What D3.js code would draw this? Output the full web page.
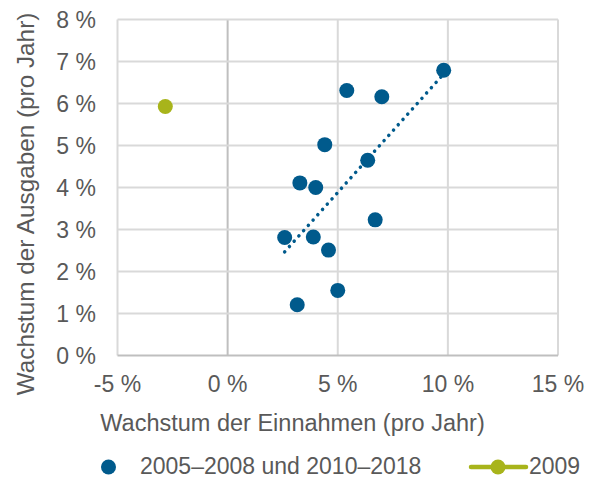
<!DOCTYPE html>
<html>
<head>
<meta charset="utf-8">
<script src="https://cdn.jsdelivr.net/npm/d3@7"></script>
<style>
  body { margin: 0; background: #fff; }
  svg text { font-family: "Liberation Sans", Arial, sans-serif; fill: #595959; }
</style>
</head>
<body>
<svg id="chart" width="591" height="477"></svg>
<script>
// growth of revenue (x) vs growth of spending (y), % per year
const mainX = [9.81, 5.41, 7.0, 4.41, 6.36, 3.28, 4.0, 6.70, 2.59, 3.89, 4.58, 5.0, 3.16];
const mainY = [6.79, 6.31, 6.16, 5.02, 4.65, 4.11, 4.0, 3.23, 2.81, 2.82, 2.51, 1.55, 1.21];
const crisisX = [-2.83];
const crisisY = [5.93];

const xTicks = [-5, 0, 5, 10, 15];
const yTicks = [0, 1, 2, 3, 4, 5, 6, 7, 8];
const seriesNames = ['2005–2008 und 2010–2018', '2009'];

const blue = '#005a8c';
const green = '#a8b41b';

const svg = d3.select('#chart');

const x = d3.scaleLinear().domain([-5, 15]).range([117.5, 558]);
const y = d3.scaleLinear().domain([0, 8]).range([355.5, 19.5]);

// grid
const grid = svg.append('g');
grid.selectAll('line.v')
  .data(xTicks)
  .join('line')
  .attr('x1', (d) => x(d)).attr('x2', (d) => x(d))
  .attr('y1', y(0)).attr('y2', y(8))
  .attr('stroke', (d) => (d === 0 ? '#bfbfbf' : '#d9d9d9'))
  .attr('stroke-width', 2);
grid.selectAll('line.h')
  .data(yTicks)
  .join('line')
  .attr('x1', x(-5)).attr('x2', x(15))
  .attr('y1', (d) => y(d)).attr('y2', (d) => y(d))
  .attr('stroke', (d) => (d === 0 ? '#bfbfbf' : '#d9d9d9'))
  .attr('stroke-width', 2);

// tick labels
svg.append('g')
  .selectAll('text')
  .data(xTicks)
  .join('text')
  .attr('x', (d) => x(d))
  .attr('y', 392)
  .attr('text-anchor', 'middle')
  .attr('font-size', 23)
  .text((d) => `${d} %`);

svg.append('g')
  .selectAll('text')
  .data(yTicks)
  .join('text')
  .attr('x', 96)
  .attr('y', (d) => y(d))
  .attr('dy', '0.36em')
  .attr('text-anchor', 'end')
  .attr('font-size', 23)
  .text((d) => `${d} %`);

// axis titles
svg.append('text')
  .attr('x', 292.5)
  .attr('y', 431)
  .attr('text-anchor', 'middle')
  .attr('font-size', 23.5)
  .text('Wachstum der Einnahmen (pro Jahr)');

svg.append('text')
  .attr('transform', 'translate(33.5,204) rotate(-90)')
  .attr('text-anchor', 'middle')
  .attr('font-size', 24.3)
  .text('Wachstum der Ausgaben (pro Jahr)');

// linear trend line for main series
const mx = d3.mean(mainX);
const my = d3.mean(mainY);
const slope = d3.sum(mainX, (v, i) => (v - mx) * (mainY[i] - my)) /
  d3.sum(mainX, (v) => (v - mx) * (v - mx));
const trendX = d3.extent(mainX);
svg.append('line')
  .attr('x1', x(trendX[0]))
  .attr('y1', y(my + slope * (trendX[0] - mx)))
  .attr('x2', x(trendX[1]))
  .attr('y2', y(my + slope * (trendX[1] - mx)))
  .attr('stroke', blue)
  .attr('stroke-width', 3.5)
  .attr('stroke-linecap', 'round')
  .attr('stroke-dasharray', '0.1 7');

// points
svg.append('g')
  .selectAll('circle')
  .data(mainX)
  .join('circle')
  .attr('cx', (d) => x(d))
  .attr('cy', (d, i) => y(mainY[i]))
  .attr('r', 7.5)
  .attr('fill', blue);

svg.append('g')
  .selectAll('circle')
  .data(crisisX)
  .join('circle')
  .attr('cx', (d) => x(d))
  .attr('cy', (d, i) => y(crisisY[i]))
  .attr('r', 7.5)
  .attr('fill', green);

// legend
const legend = svg.append('g');
legend.append('circle')
  .attr('cx', 108.5).attr('cy', 467).attr('r', 7.5).attr('fill', blue);
legend.append('text')
  .attr('x', 140).attr('y', 473.5).attr('font-size', 23)
  .text(seriesNames[0]);
legend.append('line')
  .attr('x1', 471).attr('x2', 526).attr('y1', 467).attr('y2', 467)
  .attr('stroke', green).attr('stroke-width', 4.5).attr('stroke-linecap', 'round');
legend.append('circle')
  .attr('cx', 498).attr('cy', 467).attr('r', 7.5).attr('fill', green);
legend.append('text')
  .attr('x', 529).attr('y', 473.5).attr('font-size', 23)
  .text(seriesNames[1]);
</script>
</body>
</html>
